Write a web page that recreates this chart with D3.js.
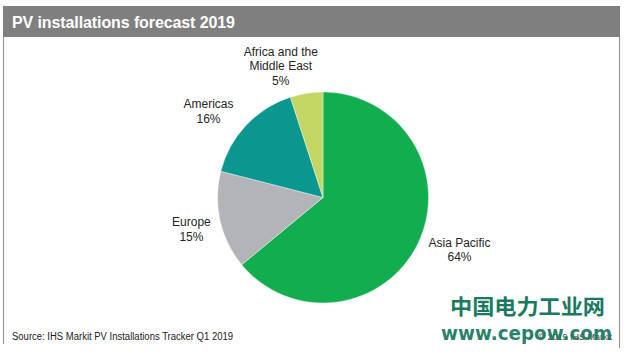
<!DOCTYPE html>
<html>
<head>
<meta charset="utf-8">
<script src="https://cdn.jsdelivr.net/npm/d3@7"></script>
<style>
  body { margin: 0; background: #fff; }
  svg { display: block; font-family: "Liberation Sans", Arial, sans-serif; }
</style>
</head>
<body>
<div id="chart"></div>
<script>
// data
var regions = ["Asia Pacific", "Europe", "Americas", "Africa and the Middle East"];
var shares = [64, 15, 16, 5];
var labelLines = [["Asia Pacific"], ["Europe"], ["Americas"], ["Africa and the", "Middle East"]];

var title = "PV installations forecast 2019",
	source = "Source: IHS Markit PV Installations Tracker Q1 2019",
	copyright = "\u00a9 2019 IHS Markit";

// layout
var width = 628,
	height = 362,
	cx = 323,
	cy = 197.5,
	radius = 105.5,
	labelRadius = 142,
	lineH = 14.5;

var colors = ["#12ad4e", "#b3b4b8", "#0c9690", "#c3d562"];
// small nudges so the label blocks sit where the original ones are
var nudge = [[8, -8], [7, 1], [-11, 11], [-20, 9]];

var svg = d3.select("#chart").append("svg")
	.attr("width", width)
	.attr("height", height);

// frame: grey header band, thin side rules
svg.append("rect")
	.attr("x", 3).attr("y", 6)
	.attr("width", 617).attr("height", 31)
	.attr("fill", "#7f7f7f");

svg.append("line")
	.attr("x1", 3.5).attr("x2", 3.5).attr("y1", 37).attr("y2", 344)
	.attr("stroke", "#9a9a9a").attr("stroke-width", 1.2);
svg.append("line")
	.attr("x1", 619.5).attr("x2", 619.5).attr("y1", 37).attr("y2", 348)
	.attr("stroke", "#9a9a9a").attr("stroke-width", 1.2);

svg.append("text")
	.attr("x", 12).attr("y", 28)
	.attr("fill", "#fff")
	.attr("font-size", 16)
	.attr("font-weight", "bold")
	.attr("letter-spacing", -0.1)
	.text(title);

// pie
var pie = d3.pie().sort(null).value(function(d){ return d; });
var arcs = pie(shares);

var arc = d3.arc().innerRadius(0).outerRadius(radius);
var labelArc = d3.arc().innerRadius(labelRadius).outerRadius(labelRadius);

var g = svg.append("g").attr("transform", "translate(" + cx + "," + cy + ")");

g.selectAll("path").data(arcs).enter().append("path")
	.attr("d", arc)
	.attr("fill", function(d, i){ return colors[i]; })
	.attr("stroke", "#fff")
	.attr("stroke-width", 0.4);

// labels: name lines + percentage, centred on the label arc
var labels = g.selectAll(".lbl").data(arcs).enter().append("text")
	.attr("class", "lbl")
	.attr("text-anchor", "middle")
	.attr("font-size", 12)
	.attr("fill", "#262626")
	.attr("transform", function(d, i){
		var c = labelArc.centroid(d);
		var n = labelLines[i].length + 1;
		return "translate(" + (c[0] + nudge[i][0]) + "," + (c[1] + nudge[i][1] - (n - 1) * lineH / 2 + 4) + ")";
	});

labels.each(function(d, i){
	var t = d3.select(this);
	labelLines[i].concat([shares[i] + "%"]).forEach(function(s, k){
		t.append("tspan").attr("x", 0).attr("y", k * lineH).text(s);
	});
});

// footer
svg.append("text")
	.attr("x", 12).attr("y", 340)
	.attr("font-size", 10)
	.attr("fill", "#222")
	.attr("textLength", 221)
	.attr("lengthAdjust", "spacingAndGlyphs")
	.text(source);

svg.append("text")
	.attr("x", 612).attr("y", 340)
	.attr("text-anchor", "end")
	.attr("font-size", 9)
	.attr("fill", "#444")
	.text(copyright);

// site watermark
svg.append("text")
	.attr("x", 450).attr("y", 314)
	.attr("font-family", "'Noto Sans CJK SC', sans-serif")
	.attr("font-weight", "bold")
	.attr("font-size", 21)
	.attr("fill", "#1a7a5f")
	.attr("textLength", 155)
	.attr("lengthAdjust", "spacingAndGlyphs")
	.text("中国电力工业网");

svg.append("text")
	.attr("x", 441).attr("y", 340)
	.attr("font-family", "'DejaVu Sans', sans-serif")
	.attr("font-weight", "bold")
	.attr("font-size", 19)
	.attr("fill", "#1a7a5f")
	.attr("fill-opacity", 0.95)
	.attr("textLength", 171)
	.attr("lengthAdjust", "spacingAndGlyphs")
	.text("www.cepow.com");
</script>
</body>
</html>
